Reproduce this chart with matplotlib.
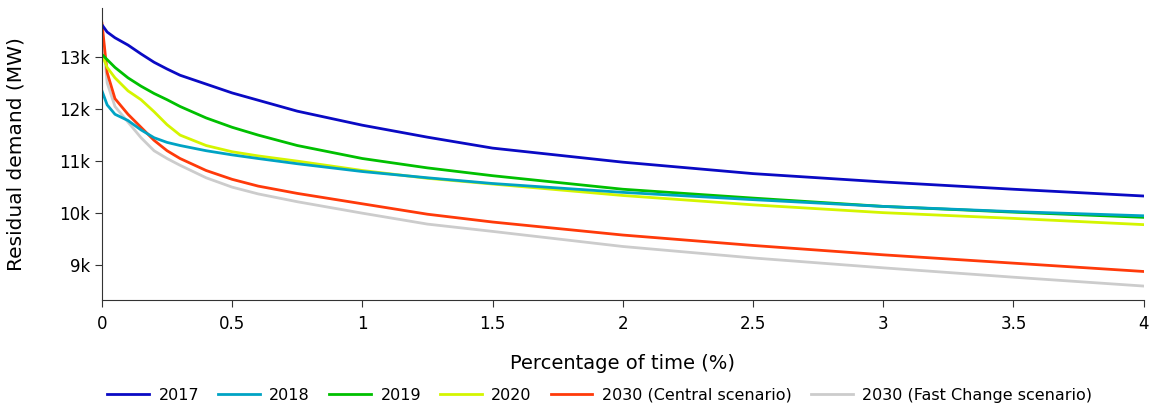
import matplotlib
matplotlib.use('Agg')
from matplotlib import pyplot as plt
from matplotlib.ticker import FuncFormatter

# percentage of time (%) at which each curve is read
x = [0, 0.02, 0.05, 0.1, 0.15, 0.2, 0.25, 0.3, 0.4, 0.5, 0.6, 0.75,
     1.0, 1.25, 1.5, 2.0, 2.5, 3.0, 3.5, 4.0]

# residual demand (MW)
d2017 = [13620, 13480, 13370, 13230, 13060, 12900, 12770, 12650, 12480, 12310, 12170, 11960,
         11690, 11460, 11250, 10980, 10760, 10600, 10460, 10330]
d2018 = [12350, 12080, 11900, 11780, 11600, 11450, 11360, 11300, 11200, 11120, 11050, 10950,
         10800, 10680, 10570, 10400, 10260, 10130, 10030, 9950]
d2019 = [13050, 12950, 12800, 12600, 12440, 12300, 12180, 12050, 11830, 11650, 11500, 11300,
         11050, 10870, 10720, 10460, 10290, 10130, 10020, 9920]
d2020 = [13050, 12800, 12600, 12350, 12180, 11950, 11700, 11500, 11300, 11180, 11100, 11000,
         10820, 10670, 10560, 10340, 10160, 10010, 9900, 9780]
d2030c = [13650, 12700, 12200, 11900, 11650, 11400, 11200, 11050, 10820, 10650, 10520, 10380,
          10180, 9980, 9830, 9580, 9380, 9200, 9040, 8880]
d2030f = [13600, 12500, 12050, 11750, 11450, 11200, 11050, 10920, 10680, 10500, 10370, 10220,
          10000, 9790, 9650, 9360, 9140, 8950, 8770, 8600]

series = [
    ('2017', d2017, '#0a0ac4'),
    ('2018', d2018, '#00a3c4'),
    ('2019', d2019, '#00c000'),
    ('2020', d2020, '#d4f500'),
    ('2030 (Central scenario)', d2030c, '#ff3a0a'),
    ('2030 (Fast Change scenario)', d2030f, '#cccccc'),
]

plt.rcParams['font.family'] = 'DejaVu Sans'
fig = plt.figure(figsize=(11.6, 4.05), dpi=100)
ax = fig.add_axes([0.0879, 0.259, 0.898, 0.721])

# draw the grey one first so the others sit on top, keep legend order
handles = {}
for name, y, c in reversed(series):
    handles[name], = ax.plot(x, y, color=c, lw=2.0, label=name)

ax.set_xlim(0, 4)
ax.set_ylim(8330, 13940)
ax.set_xticks([0, 0.5, 1, 1.5, 2, 2.5, 3, 3.5, 4])
ax.set_xticklabels(['0', '0.5', '1', '1.5', '2', '2.5', '3', '3.5', '4'])
ax.set_yticks([9000, 10000, 11000, 12000, 13000])
ax.yaxis.set_major_formatter(FuncFormatter(lambda v, p: '%dk' % (v / 1000)))
ax.tick_params(labelsize=12, length=5, color='#333333', direction='out')
ax.tick_params(axis='x', pad=6)

for s in ['top', 'right']:
    ax.spines[s].set_visible(False)
for s in ['left', 'bottom']:
    ax.spines[s].set_color('#333333')

ax.set_xlabel('Percentage of time (%)', fontsize=14, labelpad=15)
ax.set_ylabel('Residual demand (MW)', fontsize=14.5, labelpad=24)

fig.legend([handles[n] for n, _, _ in series], [n for n, _, _ in series],
           loc='lower center', bbox_to_anchor=(0.517, -0.03), ncol=6, frameon=False,
           fontsize=11.5, handlelength=2.6, columnspacing=1.2, handletextpad=0.6)

fig.savefig('out.png', dpi=100)
